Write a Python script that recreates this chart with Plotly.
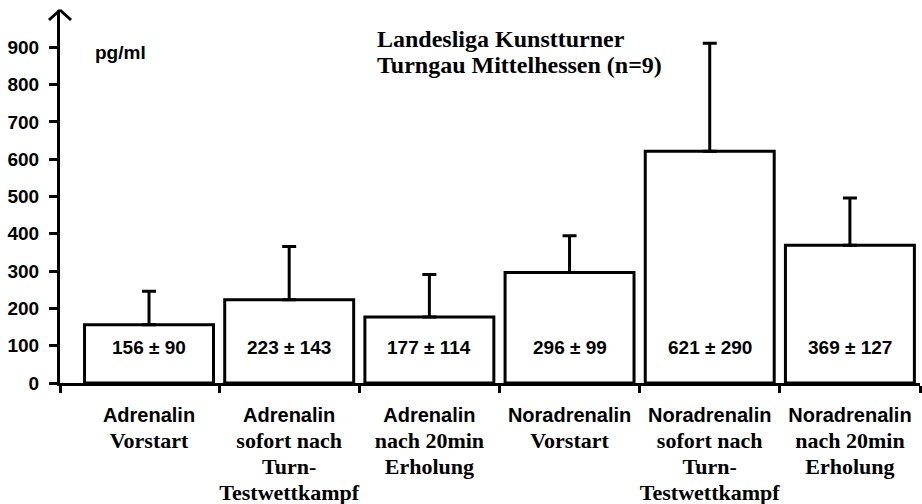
import plotly.graph_objects as go

# ---- data ----
substances = ["Adrenalin", "Adrenalin", "Adrenalin",
              "Noradrenalin", "Noradrenalin", "Noradrenalin"]
phases = ["Vorstart", "sofort nach<br>Turn-<br>Testwettkampf", "nach 20min<br>Erholung",
          "Vorstart", "sofort nach<br>Turn-<br>Testwettkampf", "nach 20min<br>Erholung"]
means = [156, 223, 177, 296, 621, 369]
sds = [90, 143, 114, 99, 290, 127]
y_ticks = [0, 100, 200, 300, 400, 500, 600, 700, 800, 900]
title_lines = ["Landesliga Kunstturner", "Turngau Mittelhessen (n=9)"]
unit_label = "pg/ml"

SANS = "Liberation Sans, Arial, sans-serif"
SERIF = "Liberation Serif, Times New Roman, serif"

n = len(means)
xs = list(range(n))

ticktext = [
    f"{s}<br><span style=\"font-family:{SERIF};font-size:22px\">{p}</span>"
    for s, p in zip(substances, phases)
]

fig = go.Figure()
fig.add_trace(go.Bar(
    x=xs, y=means, width=0.92,
    marker=dict(color="white", line=dict(color="black", width=3)),
    error_y=dict(type="data", array=sds, arrayminus=[0] * n, symmetric=False,
                 color="black", thickness=3, width=7),
    hoverinfo="skip", showlegend=False,
))

# value labels inside bars
for x, m, s in zip(xs, means, sds):
    fig.add_annotation(x=x, y=95, xref="x", yref="y", text=f"{m} ± {s}",
                       showarrow=False,
                       font=dict(family=SANS, size=19, color="black", weight="bold"))

# title lines
fig.add_annotation(x=(375 - 60) / 860, y=(383 - 39) / 373, xref="paper", yref="paper",
                   xanchor="left", yanchor="middle", text=title_lines[0], showarrow=False,
                   font=dict(family=SERIF, size=24, color="black", weight="bold"))
fig.add_annotation(x=(375 - 60) / 860, y=(383 - 65) / 373, xref="paper", yref="paper",
                   xanchor="left", yanchor="middle", text=title_lines[1], showarrow=False,
                   font=dict(family=SERIF, size=24, color="black", weight="bold"))
# unit
fig.add_annotation(x=(93 - 60) / 860, y=(383 - 53) / 373, xref="paper", yref="paper",
                   xanchor="left", yanchor="middle", text=unit_label, showarrow=False,
                   font=dict(family=SANS, size=19, color="black", weight="bold"))

# arrow head on y axis
for dx in (-11, 11):
    fig.add_shape(type="line", xref="paper", yref="paper",
                  xsizemode="pixel", ysizemode="pixel", xanchor=0, yanchor=1,
                  x0=dx, y0=-10, x1=0, y1=0,
                  line=dict(color="black", width=3))

fig.update_layout(
    width=922, height=504,
    margin=dict(l=60, r=2, t=10, b=121),
    paper_bgcolor="white", plot_bgcolor="white",
    showlegend=False,
    xaxis=dict(
        range=[-0.635, n - 0.5],
        tickmode="array", tickvals=xs, ticktext=ticktext,
        ticks="", showgrid=False, zeroline=False,
        showline=True, linecolor="black", linewidth=3,
        tickfont=dict(family=SANS, size=20, color="black", weight="bold"),
        ticklabelstandoff=12,
        minor=dict(tickvals=[-0.635] + [i + 0.5 for i in range(n)], ticks="outside",
                   ticklen=7, tickwidth=3, tickcolor="black", showgrid=False),
        automargin=False,
        fixedrange=True,
    ),
    yaxis=dict(
        range=[0, 1000],
        tickmode="array", tickvals=y_ticks,
        ticks="outside", ticklen=8, tickwidth=3, tickcolor="black",
        showgrid=False, zeroline=False,
        showline=True, linecolor="black", linewidth=3,
        tickfont=dict(family=SANS, size=19, color="black", weight="bold"),
        ticklabelstandoff=6,
        automargin=False,
        fixedrange=True,
    ),
)

fig.write_html(
    "out.html",
    config={"displayModeBar": False},
    post_script="document.body.style.margin='0';document.body.style.overflow='hidden';",
)
